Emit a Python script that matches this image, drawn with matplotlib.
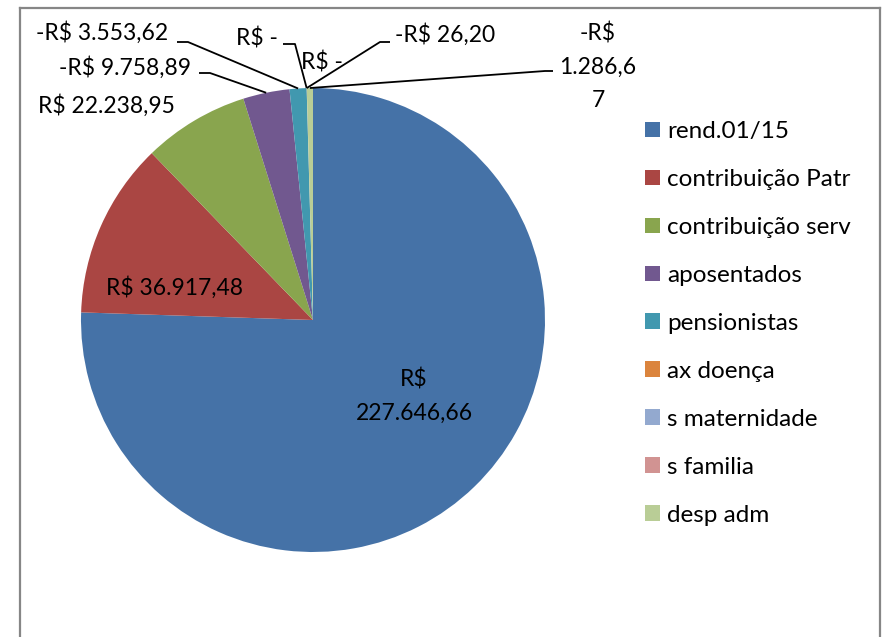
import numpy as np
import matplotlib
matplotlib.use("Agg")
import matplotlib.pyplot as plt

# Dados do grafico
categorias = ["rend.01/15", "contribuição Patr", "contribuição serv", "aposentados",
              "pensionistas", "ax doença", "s maternidade", "s familia", "desp adm"]
valores = [227646.66, 36917.48, 22238.95, -9758.89, -3553.62, 0.0, 0.0, -26.20, -1286.67]
cores = ["#4572A7", "#AA4643", "#89A54E", "#71588F", "#4198AF",
         "#DB843D", "#93A9CF", "#D19392", "#B9CD96"]


def brl(v):
    if v == 0:
        return "R$ -"
    s = f"{abs(v):,.2f}".replace(",", "X").replace(".", ",").replace("X", ".")
    return ("-R$ " if v < 0 else "R$ ") + s


rotulos = [brl(v) for v in valores]
# quebras de linha como no Excel
rotulos[0] = rotulos[0].replace("R$ ", "R$\n")
rotulos[8] = "-R$\n1.286,6\n7"

W, H = 883, 637
plt.rcParams['font.family'] = ['Lato', 'DejaVu Sans']

fig = plt.figure(figsize=(W / 100, H / 100), dpi=100)
ax = fig.add_axes([0, 0, 1, 1])

cx, cy, r = 313, H - 320, 232
wedges, _ = ax.pie([abs(v) for v in valores], colors=cores, startangle=90,
                   counterclock=False, center=(cx, cy), radius=r)
ax.set_xlim(0, W)
ax.set_ylim(0, H)
ax.set_aspect('equal')
ax.axis('off')

# posicao do texto (pixels da imagem), inicio do traco (ou None)
layout = [
    ((414, 396), None),
    ((174, 288), None),
    ((106, 106), None),
    ((125, 68), [(199, 73), (210, 73)]),
    ((102, 33), [(177, 42), (188, 42)]),
    ((257, 38), [(283, 44), (295, 44)]),
    ((322, 62), None),
    ((445, 35), [(390, 42), (380, 42)]),
    ((598, 67), [(553, 71), (545, 71)]),
]

fs = 16.5
for w, txt, (pos, stub) in zip(wedges, rotulos, layout):
    ax.text(pos[0], H - pos[1], txt, ha='center', va='center', fontsize=fs,
            color='black', linespacing=1.72)
    if stub is not None:
        ang = np.deg2rad((w.theta1 + w.theta2) / 2)
        ex, ey = cx + r * np.cos(ang), cy + r * np.sin(ang)
        xs = [stub[0][0], stub[1][0], ex]
        ys = [H - stub[0][1], H - stub[1][1], ey]
        ax.plot(xs, ys, color='black', lw=1.3, solid_capstyle='butt')

leg = ax.legend(wedges, categorias, loc='upper left',
                bbox_to_anchor=(645 / W, 1 - 121 / H), frameon=False,
                fontsize=17.5, handlelength=0.62, handleheight=0.62,
                handletextpad=0.3, labelspacing=1.11, borderpad=0,
                borderaxespad=0)

# moldura da area do grafico
borda = '#868686'
ax.plot([20, 20], [0, H - 8], color=borda, lw=1.6, clip_on=False)
ax.plot([20, 880], [H - 8, H - 8], color=borda, lw=1.6, clip_on=False)
ax.plot([880, 880], [0, H - 8], color=borda, lw=1.6, clip_on=False)

fig.savefig("out.png", dpi=100, facecolor='white')
